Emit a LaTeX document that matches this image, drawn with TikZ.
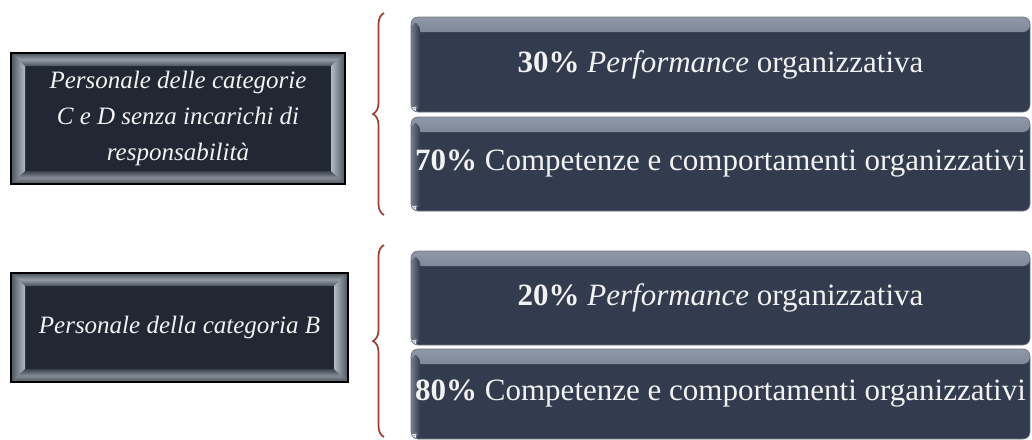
\documentclass[tikz,border=0pt]{standalone}
\usepackage{fontspec}
\setmainfont{Liberation Serif}
\usetikzlibrary{decorations.pathreplacing}
\definecolor{lfill}{HTML}{222833}
\definecolor{lbev}{HTML}{4A525D}
\definecolor{lhi}{HTML}{B4BBC3}
\definecolor{rfill}{HTML}{333C4E}
\definecolor{rtop}{HTML}{8E98A8}
\definecolor{bracecol}{HTML}{A03A34}
\definecolor{txt}{HTML}{F2F2F2}
\tikzset{
  leftbox/.style={draw=black, line width=1.2pt, fill=lbev, text=txt, align=center,
    inner sep=0pt, font=\fontsize{25}{36}\selectfont\itshape,
    path picture={
      \fill[lfill] ([xshift=14pt,yshift=-13pt]path picture bounding box.north west) rectangle ([xshift=-14pt,yshift=13pt]path picture bounding box.south east);
      \shade[top color=lbev, bottom color=lbev, middle color=lhi!70!lbev]
        (path picture bounding box.north west) -- (path picture bounding box.north east)
        -- ([xshift=-14pt,yshift=-13pt]path picture bounding box.north east)
        -- ([xshift=14pt,yshift=-13pt]path picture bounding box.north west) -- cycle;
      \shade[top color=lbev!80!black, bottom color=lbev, middle color=lhi!55!lbev]
        (path picture bounding box.south west) -- (path picture bounding box.south east)
        -- ([xshift=-14pt,yshift=13pt]path picture bounding box.south east)
        -- ([xshift=14pt,yshift=13pt]path picture bounding box.south west) -- cycle;
      \shade[left color=lbev, right color=lhi]
        (path picture bounding box.north west) -- ([xshift=14pt,yshift=-13pt]path picture bounding box.north west)
        -- ([xshift=14pt,yshift=13pt]path picture bounding box.south west)
        -- (path picture bounding box.south west) -- cycle;
      \shade[right color=lbev, left color=lhi]
        (path picture bounding box.north east) -- ([xshift=-14pt,yshift=-13pt]path picture bounding box.north east)
        -- ([xshift=-14pt,yshift=13pt]path picture bounding box.south east)
        -- (path picture bounding box.south east) -- cycle;
    }},
  rightbox/.style={draw=rfill!70!white, line width=0.6pt, fill=rfill, text=txt,
    inner sep=0pt, rounded corners=7pt, minimum width=619pt,
    font=\fontsize{31}{36}\selectfont,
    path picture={
      \shade[top color=rtop, bottom color=rfill]
        (path picture bounding box.north west) rectangle ([yshift=-15pt]path picture bounding box.north east);
      \shade[left color=rtop!70!rfill, right color=rfill]
        ([yshift=-6pt]path picture bounding box.north west) rectangle ([xshift=9pt]path picture bounding box.south west);
      \fill[white!85!rfill] (path picture bounding box.south west) rectangle ([xshift=5pt,yshift=5pt]path picture bounding box.south west);
    }},
  bracestyle/.style={draw=bracecol, line width=1.7pt, decorate,
    decoration={brace, amplitude=11pt}}
}
\begin{document}
\begin{tikzpicture}[x=1pt, y=-1pt]
\useasboundingbox (0,0) rectangle (1032,439);
\node[leftbox, minimum width=334pt, minimum height=131pt] (p1) at (178,118.5)
  {Personale delle categorie\\C e D senza incarichi di\\responsabilità};
\node[leftbox, minimum width=337pt, minimum height=109pt] (p2) at (179.5,327.5)
  {Personale della categoria B};
\node[rightbox, minimum height=95pt] (r1) at (720.5,64.5)
  {\textbf{30\%} \textit{Performance} organizzativa};
\node[rightbox, minimum height=94pt] (r2) at (720.5,164)
  {\textbf{70\%} Competenze e comportamenti organizzativi};
\node[rightbox, minimum height=94pt] (r3) at (720.5,298)
  {\textbf{20\%} \textit{Performance} organizzativa};
\node[rightbox, minimum height=90pt] (r4) at (720.5,394)
  {\textbf{80\%} Competenze e comportamenti organizzativi};
\coordinate (b1t) at (384,13);
\coordinate (b1b) at (384,215);
\coordinate (b2t) at (384,245);
\coordinate (b2b) at (384,437);
\draw[bracestyle] (b1b) -- (b1t);
\draw[bracestyle] (b2b) -- (b2t);
\end{tikzpicture}
\end{document}
